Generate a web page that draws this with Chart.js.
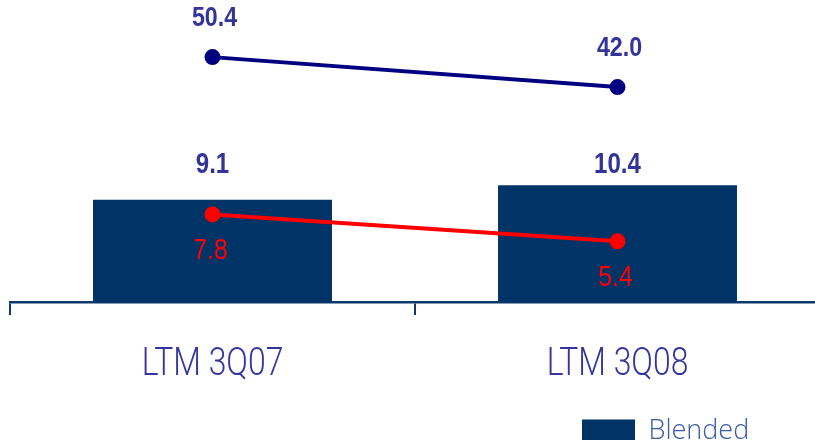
<!DOCTYPE html>
<html>
<head>
<meta charset="utf-8">
<script src="https://cdn.jsdelivr.net/npm/chart.js@4"></script>
<style>
  html, body { margin: 0; padding: 0; background: #fff; overflow: hidden; }
  #wrap { width: 830px; height: 440px; }
</style>
</head>
<body>
<div id="wrap"><canvas id="chart" width="830" height="440"></canvas></div>
<script>
// --- data ---
const categories = ['LTM 3Q07', 'LTM 3Q08'];
const blendedValues = [9.1, 10.4];
const redValues = [7.8, 5.4];
const blueValues = [50.4, 42.0];

// --- colours ---
const barColor = '#003366';
const navyLine = '#000080';
const redLine = '#ff0000';
const labelInk = '#333399';
const axisColor = '#0d396c';
const sans = "'Liberation Sans', Arial, sans-serif";

// condensed text: draw squeezed horizontally
function squeezeText(ctx, txt, x, y, font, color, sx) {
    ctx.save();
    ctx.translate(x, y);
    ctx.scale(sx, 1);
    ctx.font = font;
    ctx.fillStyle = color;
    ctx.textAlign = 'center';
    ctx.textBaseline = 'alphabetic';
    ctx.fillText(txt, 0, 0);
    ctx.restore();
}

// value labels + category labels
const valueLabels = {
    id: 'valueLabels',
    afterLayout(chart) {
        // park the legend under the second category
        const lg = chart.legend;
        const w = lg.width, h = lg.height;
        lg.left = 570; lg.right = 570 + w;
        lg.top = 406; lg.bottom = 406 + h;
    },
    afterDatasetsDraw(chart) {
        const ctx = chart.ctx;
        chart.data.datasets.forEach((ds, i) => {
            const meta = chart.getDatasetMeta(i);
            const rowY = Math.min(...meta.data.map(el => el.y));
            meta.data.forEach((el, j) => {
                const txt = ds.data[j].toFixed(1);
                if (ds.type === 'bar') {
                    squeezeText(ctx, txt, el.x, rowY - 12, 'bold 29px ' + sans, labelInk, 0.83);
                } else if (ds.yAxisID === 'y2') {
                    squeezeText(ctx, txt, el.x + 2, el.y - 31, 'bold 28px ' + sans, labelInk, 0.83);
                } else {
                    squeezeText(ctx, txt, el.x - 2, el.y + 45, '30px ' + sans, redLine, 0.83);
                }
            });
        });
        const xs = chart.scales.x;
        categories.forEach((c, k) => {
            squeezeText(ctx, c, xs.getPixelForValue(k), 375, "300 38px Roboto, sans-serif", '#3535a0', 0.84);
        });
    }
};

const ctx = document.getElementById('chart');
new Chart(ctx.getContext('2d'), {
    data: {
        labels: categories,
        datasets: [
            {
                type: 'line', label: 'Series 2', data: blueValues, yAxisID: 'y2',
                borderColor: navyLine, backgroundColor: navyLine, borderWidth: 4,
                pointRadius: 6, pointHoverRadius: 6, order: 1
            },
            {
                type: 'line', label: 'Series 3', data: redValues, yAxisID: 'y',
                borderColor: redLine, backgroundColor: redLine, borderWidth: 4,
                pointRadius: 6, pointHoverRadius: 6, order: 2
            },
            {
                type: 'bar', label: 'Blended', data: blendedValues, yAxisID: 'y',
                backgroundColor: barColor, barPercentage: 0.59, categoryPercentage: 1.0, order: 3
            }
        ]
    },
    options: {
        responsive: false,
        animation: false,
        layout: { padding: { left: 10, right: 10, top: 10, bottom: 76 } },
        scales: {
            x: {
                offset: true,
                grid: { offset: true, drawOnChartArea: false, tickLength: 13, color: axisColor, lineWidth: 2 },
                border: { display: true, color: axisColor, width: 2.5 },
                ticks: { display: false }
            },
            y: { display: false, min: 0, max: 26.0 },
            y2: { display: false, min: -18.2, max: 63.6 }
        },
        plugins: {
            legend: {
                position: 'bottom',
                align: 'start',
                labels: {
                    filter: item => item.text === 'Blended',
                    boxWidth: 53, boxHeight: 24,
                    color: '#3a5aa8',
                    padding: 12,
                    font: { family: "'Open Sans', sans-serif", size: 27, weight: 300 }
                }
            },
            tooltip: { enabled: false }
        }
    },
    plugins: [valueLabels]
});
</script>
</body>
</html>
